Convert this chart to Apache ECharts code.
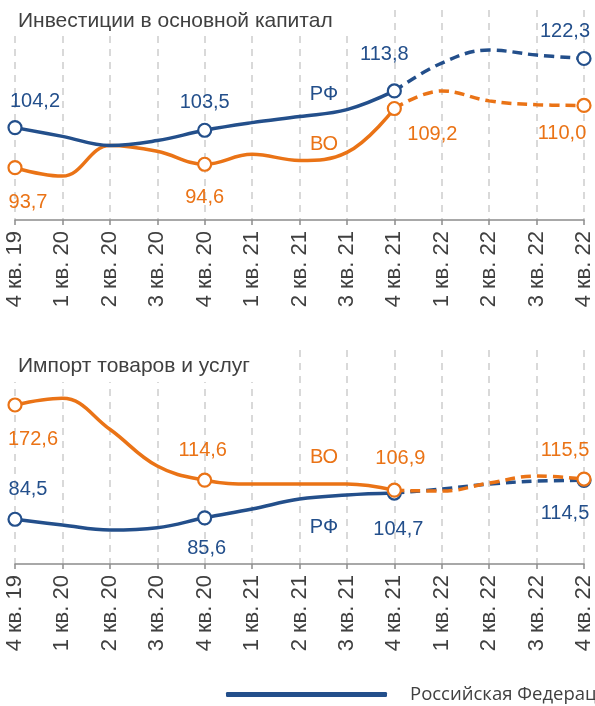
<!DOCTYPE html>
<html>
<head>
<meta charset="utf-8">
<script src="https://cdn.jsdelivr.net/npm/echarts@6/dist/echarts.min.js"></script>
<style>html,body{margin:0;padding:0;background:#fff;}#c{width:595px;height:706px;}</style>
</head>
<body>
<div id="c"></div>
<script>
var categories = ['4 кв. 19','1 кв. 20','2 кв. 20','3 кв. 20','4 кв. 20','1 кв. 21','2 кв. 21','3 кв. 21','4 кв. 21','1 кв. 22','2 кв. 22','3 кв. 22','4 кв. 22'];
var invRF = [104.2, 101.9, 99.5, 100.8, 103.5, 105.5, 107.1, 108.9, 113.8, 121.1, 124.5, 123.2, 122.3];
var invVO = [93.7, 91.5, 99.5, 98.0, 94.6, 97.2, 95.6, 97.7, 109.2, 113.8, 111.2, 110.2, 110.0];
var impRF = [84.5, 80.1, 76.2, 78.0, 85.6, 92.4, 100.1, 103.2, 104.7, 107.8, 111.6, 113.9, 114.5];
var impVO = [172.6, 177.8, 153.9, 125.5, 114.6, 111.6, 111.6, 111.6, 106.9, 106.2, 112.4, 117.8, 115.5];
var titles = ['Инвестиции в основной капитал', 'Импорт товаров и услуг'];
var legendName = 'Российская Федерация';
var lastActual = 8;
var markerIdx = [0, 4, 8, 12];

var BLUE = '#234f8b', ORANGE = '#ea7316';
var FONT = 'Liberation Sans, Arial, sans-serif';

// label offsets per marker (layout)
var offsets = {
  invRF: [[20,-26],[0,-28],[-10,-36],[-19,-27]],
  invVO: [[13,35],[0,33],[38,26],[-22,28]],
  impRF: [[13,-30],[2,31],[4,36],[-19,33]],
  impVO: [[18,34],[-2,-30],[6,-32],[-19,-29]]
};

function fmt(v){ return v.toFixed(1).replace('.', ','); }

function buildData(vals, key, part, color){
  return vals.map(function(v, i){
    var inPart = part === 'solid' ? i <= lastActual : i >= lastActual;
    if (!inPart) return '-';
    var mi = markerIdx.indexOf(i);
    var isMarker = mi >= 0 && (part === 'solid' ? i <= lastActual : i > lastActual);
    if (isMarker) {
      return {value: v, symbol: 'circle', symbolSize: 13,
        label: {show: true, position: 'inside', offset: offsets[key][mi], formatter: fmt(v),
          color: color, fontSize: 20, fontFamily: FONT}};
    }
    return {value: v, symbol: 'none', label: {show: false}};
  });
}

function lineSeries(name, vals, key, part, color, gi, z){
  return {
    name: name, type: 'line', xAxisIndex: gi, yAxisIndex: gi,
    smooth: 0.4, z: z,
    data: buildData(vals, key, part, color),
    lineStyle: {color: color, width: 3.5, type: part === 'solid' ? 'solid' : [10, 6], cap: 'butt'},
    itemStyle: {color: '#fff', borderColor: color, borderWidth: 2.2},
    emphasis: {disabled: true},
    animation: false
  };
}

function xAxis(gi){
  return {
    type: 'category', gridIndex: gi, data: categories, boundaryGap: false,
    axisLine: {lineStyle: {color: '#8c8c8c', width: 1.5}},
    axisTick: {show: true, length: 5, lineStyle: {color: '#8c8c8c', width: 1.5}},
    axisLabel: {rotate: 90, margin: 11, color: '#404040', fontSize: 22, fontFamily: FONT, interval: 0},
    splitLine: {show: true, lineStyle: {color: '#d9d9d9', width: 2, type: [7, 6]}}
  };
}

var chart = echarts.init(document.getElementById('c'));
chart.setOption({
  backgroundColor: '#fff',
  animation: false,
  title: [
    {text: titles[0], left: 13, top: 6, z: 20, textStyle: {color: '#404040', fontSize: 21, fontWeight: 'normal', fontFamily: FONT}},
    {text: titles[1], left: 13, top: 351, z: 20, textStyle: {color: '#404040', fontSize: 21, fontWeight: 'normal', fontFamily: FONT}}
  ],
  graphic: [
    {type: 'rect', shape: {x: 0, y: 0, width: 372, height: 36}, style: {fill: '#fff'}, z: 5},
    {type: 'rect', shape: {x: 0, y: 340, width: 282, height: 42}, style: {fill: '#fff'}, z: 5},
    {type: 'text', style: {text: 'РФ', x: 324, y: 94, fill: BLUE, font: '20px ' + FONT, textAlign: 'center', textVerticalAlign: 'middle'}, z: 10},
    {type: 'text', style: {text: 'ВО', x: 324, y: 144, fill: ORANGE, font: '20px ' + FONT, textAlign: 'center', textVerticalAlign: 'middle'}, z: 10},
    {type: 'text', style: {text: 'ВО', x: 324, y: 457, fill: ORANGE, font: '20px ' + FONT, textAlign: 'center', textVerticalAlign: 'middle'}, z: 10},
    {type: 'text', style: {text: 'РФ', x: 324, y: 527, fill: BLUE, font: '20px ' + FONT, textAlign: 'center', textVerticalAlign: 'middle'}, z: 10}
  ],
  legend: {
    data: [{name: legendName, icon: 'roundRect', itemStyle: {color: BLUE, borderWidth: 0}}],
    left: 221, top: 680, itemWidth: 161, itemHeight: 5, itemGap: 20,
    textStyle: {color: '#404040', fontSize: 18.5, fontFamily: 'Open Sans, sans-serif', padding: [0, 0, 0, 18]},
    selectedMode: false
  },
  grid: [
    {left: 15, right: 11, top: 10, height: 210},
    {left: 15, right: 11, top: 350, height: 214}
  ],
  xAxis: [xAxis(0), xAxis(1)],
  yAxis: [
    {type: 'value', gridIndex: 0, min: 80, max: 135, show: false},
    {type: 'value', gridIndex: 1, min: 50, max: 215, show: false}
  ],
  series: [
    lineSeries('invVO', invVO, 'invVO', 'solid', ORANGE, 0, 3),
    lineSeries('invVOd', invVO, 'invVO', 'dashed', ORANGE, 0, 3),
    lineSeries(legendName, invRF, 'invRF', 'solid', BLUE, 0, 4),
    lineSeries('invRFd', invRF, 'invRF', 'dashed', BLUE, 0, 4),
    lineSeries('impRF', impRF, 'impRF', 'solid', BLUE, 1, 3),
    lineSeries('impRFd', impRF, 'impRF', 'dashed', BLUE, 1, 3),
    lineSeries('impVO', impVO, 'impVO', 'solid', ORANGE, 1, 4),
    lineSeries('impVOd', impVO, 'impVO', 'dashed', ORANGE, 1, 4)
  ]
});
</script>
</body>
</html>
